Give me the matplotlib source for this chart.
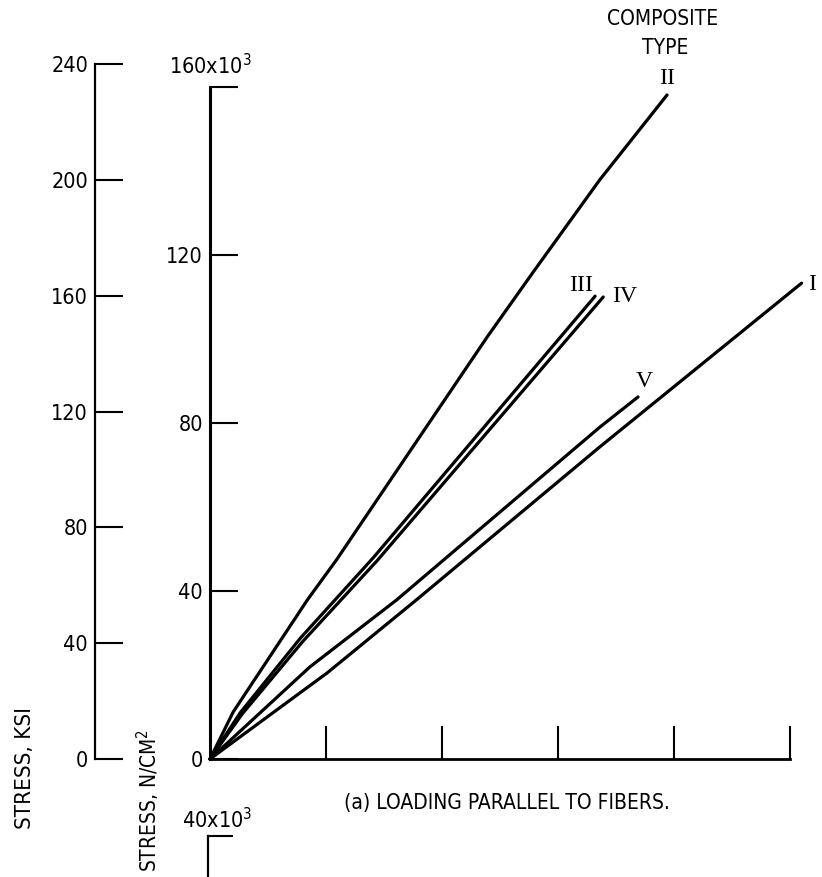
import matplotlib
matplotlib.use("Agg")
import matplotlib.pyplot as plt

# stress (10^3 N/cm^2) against strain (x in tick intervals, unlabelled)
ii_x = [0, 0.20, 0.84, 1.09, 2.39, 2.78, 3.36, 3.94]
ii_y = [0, 11.2, 37.9, 47.4, 100.5, 115.7, 137.9, 158.1]
iii_x = [0, 0.26, 0.78, 1.41, 3.32]
iii_y = [0, 11.0, 28.8, 48.0, 110.2]
iv_x = [0, 0.28, 0.80, 1.44, 3.39]
iv_y = [0, 10.8, 28.0, 47.2, 110.0]
v_x = [0, 0.86, 1.61, 3.36, 3.69]
v_y = [0, 21.9, 37.9, 79.0, 86.2]
i_x = [0, 1.01, 1.78, 3.36, 5.10]
i_y = [0, 20.5, 37.9, 74.3, 113.3]

si_ticks = [0, 40, 80, 120, 160]
si_labels = ["0", "40", "80", "120", ""]
ksi_ticks = [0, 40, 80, 120, 160, 200, 240]
x_ticks = [1, 2, 3, 4, 5]
KSI_PER_SI = 1 / 0.68948  # 1 ksi = 689.48 N/cm^2

plt.rcParams["font.family"] = ["DejaVu Sans"]
plt.rcParams["font.stretch"] = "condensed"
plt.rcParams["mathtext.fontset"] = "dejavusans"

W, H = 822, 877
fig = plt.figure(figsize=(W / 100, H / 100), dpi=100)

y_top = 759 / 4.2
ax = fig.add_axes([210 / W, 118 / H, (W - 210) / W, 759 / H])
ax.set_xlim(0, (W - 210) / 116)
ax.set_ylim(0, y_top)
for s in ("top", "right"):
	ax.spines[s].set_visible(False)
ax.spines["left"].set_bounds(0, 160)
ax.spines["bottom"].set_bounds(0, 5)
ax.spines["left"].set_linewidth(2.2)
ax.spines["bottom"].set_linewidth(2.0)
ax.set_yticks(si_ticks)
ax.set_yticklabels(si_labels)
ax.set_xticks(x_ticks)
ax.set_xticklabels([])
ax.tick_params(axis="y", direction="in", length=20, width=1.5, pad=5, labelsize=15.5)
ax.tick_params(axis="x", direction="in", length=24, width=1.5)
ax.text(0, 162, r"160x10$^3$", ha="center", va="bottom", fontsize=15.5)

lw = 2.3
for xs, ys in [(ii_x, ii_y), (iii_x, iii_y), (iv_x, iv_y), (v_x, v_y), (i_x, i_y)]:
	ax.plot(xs, ys, color="black", lw=lw, solid_capstyle="round", solid_joinstyle="round", clip_on=False)

roman = ["Liberation Serif", "DejaVu Serif"]
ends = [
	("II", ii_x[-1], ii_y[-1], (0, 16)),
	("III", iii_x[-1], iii_y[-1], (-14, 11)),
	("IV", iv_x[-1], iv_y[-1], (21, 0)),
	("V", v_x[-1], v_y[-1], (6, 15)),
	("I", i_x[-1], i_y[-1], (11, -1)),
]
for name, x, y, off in ends:
	ax.annotate(name, (x, y), xytext=off, textcoords="offset pixels",
		ha="center", va="center", fontsize=17, family=roman)
ax.annotate("COMPOSITE", (ii_x[-1], ii_y[-1]), xytext=(-4, 76), textcoords="offset pixels",
	ha="center", va="center", fontsize=15)
ax.annotate("TYPE", (ii_x[-1], ii_y[-1]), xytext=(-2, 47), textcoords="offset pixels",
	ha="center", va="center", fontsize=15)

fig.text(507 / W, 1 - 803 / H, "(a) LOADING PARALLEL TO FIBERS.", ha="center", va="center", fontsize=15)

# stress in ksi
ax_k = fig.add_axes([95 / W, 118 / H, 30 / W, 759 / H])
ax_k.set_ylim(0, y_top * KSI_PER_SI)
for s in ("top", "right", "bottom"):
	ax_k.spines[s].set_visible(False)
ax_k.spines["left"].set_bounds(0, 240)
ax_k.spines["left"].set_linewidth(1.6)
ax_k.set_xticks([])
ax_k.set_yticks(ksi_ticks)
ax_k.tick_params(axis="y", direction="in", length=20, width=1.5, pad=5, labelsize=15.5)
ax_k.patch.set_visible(False)

fig.text(25 / W, 1 - 768 / H, "STRESS, KSI", rotation=90, ha="center", va="center", fontsize=16)
fig.text(148 / W, 1 - 800 / H, r"STRESS, N/CM$^2$", rotation=90, ha="center", va="center", fontsize=15)

# top of the next panel, cut off at the bottom edge
ax_b = fig.add_axes([208 / W, -60 / H, 30 / W, 101 / H])
ax_b.set_ylim(0, 40)
for s in ("top", "right", "bottom"):
	ax_b.spines[s].set_visible(False)
ax_b.spines["left"].set_linewidth(1.6)
ax_b.set_xticks([])
ax_b.set_yticks([40])
ax_b.set_yticklabels([])
ax_b.tick_params(axis="y", direction="in", length=18, width=1.5)
ax_b.patch.set_visible(False)
ax_b.text(0.3, 41.5, r"40x10$^3$", ha="center", va="bottom", fontsize=15.5,
	transform=ax_b.get_yaxis_transform())

fig.savefig("out.png", dpi=100)
